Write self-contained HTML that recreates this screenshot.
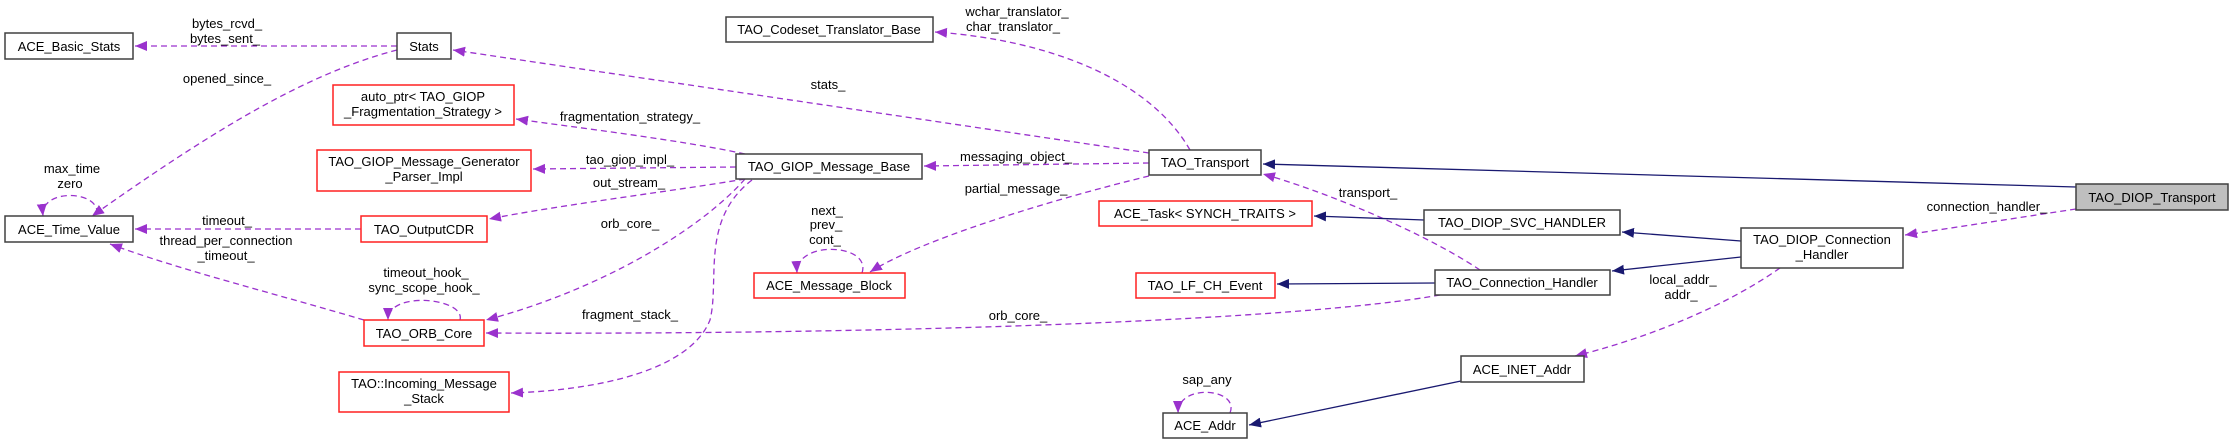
<!DOCTYPE html>
<html><head><meta charset="utf-8"><style>
html,body{margin:0;padding:0;background:#fff;}
svg{display:block;}
text{font-family:"Liberation Sans",sans-serif;font-size:13px;fill:#000;}
.b{fill:#fff;stroke:#404040;stroke-width:1.5;}
.r{fill:#fff;stroke:#ff2020;stroke-width:1.5;}
.p{fill:none;stroke:#9a32cd;stroke-width:1.3;stroke-dasharray:6,4;}
.n{fill:none;stroke:#191970;stroke-width:1.3;}
</style></head><body>
<svg width="2235" height="444" viewBox="0 0 2235 444" xmlns="http://www.w3.org/2000/svg">
<defs>
<marker id="ap" markerUnits="userSpaceOnUse" markerWidth="14" markerHeight="12" refX="12" refY="5" orient="auto"><path d="M0,0 L12,5 L0,10 Z" fill="#9a32cd"/></marker>
<marker id="an" markerUnits="userSpaceOnUse" markerWidth="14" markerHeight="12" refX="12" refY="5" orient="auto"><path d="M0,0 L12,5 L0,10 Z" fill="#191970"/></marker>
</defs>

<!-- purple edges -->
<g class="p">
<path d="M397,46 L135,46" marker-end="url(#ap)"/>
<path d="M397,50 C300,75 200,140 92,216" marker-end="url(#ap)"/>
<path d="M1149,153 L453,50" marker-end="url(#ap)"/>
<path d="M97,214 C100,190 40,188 43,216" marker-end="url(#ap)"/>
<path d="M361,229 L135,229" marker-end="url(#ap)"/>
<path d="M364,320 C280,295 180,270 110,244" marker-end="url(#ap)"/>
<path d="M460,320 C466,298 388,290 388,320" marker-end="url(#ap)"/>
<path d="M745,154 C680,140 580,128 516,119" marker-end="url(#ap)"/>
<path d="M736,167 L533,169" marker-end="url(#ap)"/>
<path d="M745,179 C680,190 560,205 489,219" marker-end="url(#ap)"/>
<path d="M745,179 C700,230 600,290 486,320" marker-end="url(#ap)"/>
<path d="M752,180 C700,220 720,280 710,320 C690,370 600,390 511,393" marker-end="url(#ap)"/>
<path d="M1149,163 L924,166" marker-end="url(#ap)"/>
<path d="M1190,150 C1150,80 1050,40 935,32" marker-end="url(#ap)"/>
<path d="M1149,176 C1050,200 920,240 870,272" marker-end="url(#ap)"/>
<path d="M862,273 C872,243 795,240 797,273" marker-end="url(#ap)"/>
<path d="M1480,270 C1420,230 1320,190 1263,174" marker-end="url(#ap)"/>
<path d="M1440,295 C1300,320 900,335 486,333" marker-end="url(#ap)"/>
<path d="M2076,209 L1905,235" marker-end="url(#ap)"/>
<path d="M1780,268 C1720,310 1640,340 1575,356" marker-end="url(#ap)"/>
<path d="M1230,413 C1240,388 1178,383 1178,413" marker-end="url(#ap)"/>
</g>
<!-- navy edges -->
<g class="n">
<path d="M2076,187 L1263,164" marker-end="url(#an)"/>
<path d="M1424,220 L1314,216" marker-end="url(#an)"/>
<path d="M1741,241 L1622,232" marker-end="url(#an)"/>
<path d="M1741,257 L1612,271" marker-end="url(#an)"/>
<path d="M1435,283 L1277,284" marker-end="url(#an)"/>
<path d="M1461,381 L1249,425" marker-end="url(#an)"/>
</g>

<!-- boxes -->
<rect class="b" x="5" y="33" width="128" height="26"/>
<rect class="b" x="397" y="33" width="54" height="26"/>
<rect class="r" x="333" y="85" width="181" height="40"/>
<rect class="r" x="317" y="150" width="214" height="41"/>
<rect class="b" x="5" y="216" width="128" height="26"/>
<rect class="r" x="361" y="216" width="126" height="26"/>
<rect class="r" x="364" y="320" width="120" height="26"/>
<rect class="r" x="339" y="372" width="170" height="40"/>
<rect class="b" x="726" y="17" width="207" height="25"/>
<rect class="b" x="736" y="154" width="186" height="25"/>
<rect class="b" x="1149" y="150" width="112" height="25"/>
<rect class="r" x="1099" y="201" width="213" height="25"/>
<rect class="b" x="1424" y="210" width="196" height="25"/>
<rect class="r" x="754" y="273" width="151" height="25"/>
<rect class="r" x="1136" y="273" width="139" height="25"/>
<rect class="b" x="1435" y="270" width="175" height="25"/>
<rect class="b" x="1461" y="356" width="123" height="26"/>
<rect class="b" x="1163" y="413" width="84" height="25"/>
<rect class="b" x="1741" y="228" width="162" height="40"/>
<rect x="2076" y="184" width="152" height="26" fill="#bfbfbf" stroke="#404040" stroke-width="1.5"/>

<!-- box labels -->
<g text-anchor="middle">
<text x="69" y="51">ACE_Basic_Stats</text>
<text x="424" y="51">Stats</text>
<text x="423" y="101">auto_ptr&lt; TAO_GIOP</text>
<text x="423" y="116">_Fragmentation_Strategy &gt;</text>
<text x="424" y="166">TAO_GIOP_Message_Generator</text>
<text x="424" y="181">_Parser_Impl</text>
<text x="69" y="234">ACE_Time_Value</text>
<text x="424" y="234">TAO_OutputCDR</text>
<text x="424" y="338">TAO_ORB_Core</text>
<text x="424" y="388">TAO::Incoming_Message</text>
<text x="424" y="403">_Stack</text>
<text x="829" y="34">TAO_Codeset_Translator_Base</text>
<text x="829" y="171">TAO_GIOP_Message_Base</text>
<text x="1205" y="167">TAO_Transport</text>
<text x="1205" y="218">ACE_Task&lt; SYNCH_TRAITS &gt;</text>
<text x="1522" y="227">TAO_DIOP_SVC_HANDLER</text>
<text x="829" y="290">ACE_Message_Block</text>
<text x="1205" y="290">TAO_LF_CH_Event</text>
<text x="1522" y="287">TAO_Connection_Handler</text>
<text x="1522" y="374">ACE_INET_Addr</text>
<text x="1205" y="430">ACE_Addr</text>
<text x="1822" y="244">TAO_DIOP_Connection</text>
<text x="1822" y="259">_Handler</text>
<text x="2152" y="202">TAO_DIOP_Transport</text>

<!-- edge labels -->
<text x="227" y="28">bytes_rcvd_</text>
<text x="225" y="43">bytes_sent_</text>
<text x="227" y="83">opened_since_</text>
<text x="72" y="173">max_time</text>
<text x="70" y="188">zero</text>
<text x="227" y="225">timeout_</text>
<text x="226" y="245">thread_per_connection</text>
<text x="226" y="260">_timeout_</text>
<text x="426" y="277">timeout_hook_</text>
<text x="424" y="292">sync_scope_hook_</text>
<text x="630" y="121">fragmentation_strategy_</text>
<text x="630" y="164">tao_giop_impl_</text>
<text x="629" y="187">out_stream_</text>
<text x="630" y="228">orb_core_</text>
<text x="630" y="319">fragment_stack_</text>
<text x="1017" y="16">wchar_translator_</text>
<text x="1013" y="31">char_translator_</text>
<text x="828" y="89">stats_</text>
<text x="1016" y="161">messaging_object_</text>
<text x="1016" y="193">partial_message_</text>
<text x="827" y="215">next_</text>
<text x="826" y="229">prev_</text>
<text x="825" y="244">cont_</text>
<text x="1368" y="197">transport_</text>
<text x="1018" y="320">orb_core_</text>
<text x="1207" y="384">sap_any</text>
<text x="1987" y="211">connection_handler_</text>
<text x="1683" y="284">local_addr_</text>
<text x="1681" y="299">addr_</text>
</g>
</svg>
</body></html>
